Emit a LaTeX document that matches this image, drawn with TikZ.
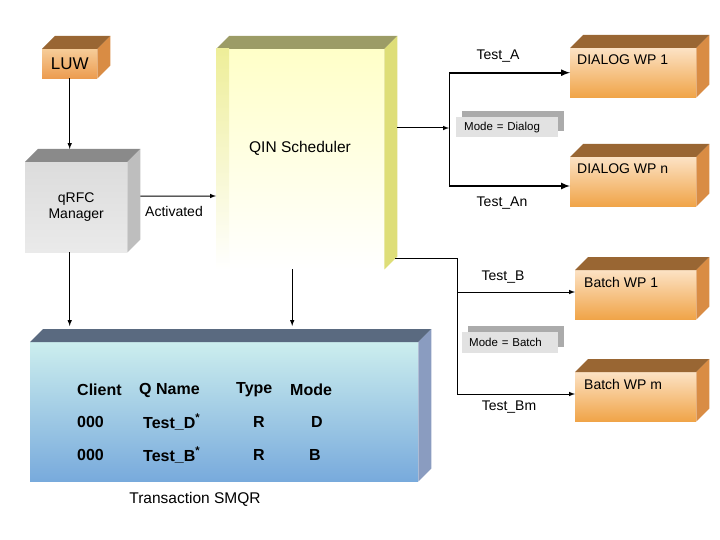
\documentclass[tikz,border=0pt]{standalone}
\usepackage{fontspec}
\setmainfont{Liberation Sans}
\usetikzlibrary{shapes,arrows,shadows}
\definecolor{wpTop}{HTML}{996633}
\definecolor{wpLight}{HTML}{FCE2C4}
\definecolor{wpDark}{HTML}{F0A448}
\definecolor{wpSide}{HTML}{D98C44}
\definecolor{luwLight}{HTML}{F6CC98}
\definecolor{luwDark}{HTML}{EC9C50}
\definecolor{qrTop}{HTML}{8A8A8A}
\definecolor{qrFront}{HTML}{DCDCDC}
\definecolor{qrSide}{HTML}{BEBEBE}
\definecolor{qinTop}{HTML}{9C9C66}
\definecolor{qinFront}{HTML}{FFFFC8}
\definecolor{qinStripe}{HTML}{EEEE99}
\definecolor{qinSide}{HTML}{DEDE78}
\definecolor{tbTop}{HTML}{5A6A80}
\definecolor{tbSide}{HTML}{8A9CC0}
\definecolor{tbLight}{HTML}{CCEEEE}
\definecolor{tbMid}{HTML}{BCBCEC}
\definecolor{tbDark}{HTML}{78AADC}
\definecolor{modeFront}{HTML}{E2E2E2}
\definecolor{modeShadow}{HTML}{ABABAB}
\tikzstyle{face} = [rectangle, inner sep=0pt, anchor=north west]
\tikzstyle{wp} = [face, minimum width=126pt, minimum height=49pt, top color=wpLight, bottom color=wpDark]
\tikzstyle{lbl} = [font=\fontsize{14}{16}\selectfont]
\tikzstyle{wptext} = [lbl, anchor=west, inner sep=0pt]
\tikzstyle{mode} = [rectangle, fill=modeFront, anchor=north west, inner ysep=0pt, align=left, font=\fontsize{11.5}{13}\selectfont, drop shadow={shadow xshift=6pt, shadow yshift=6pt, fill=modeShadow, opacity=1}]
\tikzstyle{tbl} = [font=\fontsize{16}{18}\selectfont\bfseries, inner sep=0pt]
\tikzstyle{arr} = [-latex, line width=1pt]
% top and right side of a block
\newcommand{\boxsides}[3]{%
  \fill[#2] (#1.north west) -- ++(13,-13) -- ([shift={(13,-13)}]#1.north east) -- (#1.north east) -- cycle;
  \fill[#3] (#1.north east) -- ++(13,-13) -- ([shift={(13,-13)}]#1.south east) -- (#1.south east) -- cycle;}
\begin{document}
\begin{tikzpicture}[x=1pt, y=-1pt]
   \useasboundingbox (0,0) rectangle (720,540);
   % blocks
   \node[face, minimum width=55pt, minimum height=29pt, top color=luwLight, bottom color=luwDark] (luw) at (42,49) {};
   \boxsides{luw}{wpTop}{wpSide}
   \node[font=\fontsize{17}{19}\selectfont] (luwtext) at (luw) {LUW};
   \node[face, minimum width=102pt, minimum height=90pt, top color=qrFront, bottom color=qrFront!60!white] (qrfc) at (25,162) {};
   \boxsides{qrfc}{qrTop}{qrSide}
   \node[lbl, align=center] (qrfctext) at (qrfc) {qRFC\\Manager};
   \node[face, minimum width=168pt, minimum height=220pt, top color=qinFront, bottom color=white] (qin) at (216,49) {};
   \boxsides{qin}{qinTop}{qinSide}
   \fill[top color=qinStripe, bottom color=white] (qin.north west) rectangle ([xshift=13pt]qin.south west);
   \node[font=\fontsize{15.5}{18}\selectfont] (qintext) at (300,148) {QIN Scheduler};
   \node[wp] (dwp1) at (570,48) {};
   \node[wp] (dwpn) at (570,157) {};
   \node[wp, minimum width=121pt] (bwp1) at (575,270) {};
   \node[wp, minimum width=121pt] (bwpm) at (575,372) {};
   \boxsides{dwp1}{wpTop}{wpSide}
   \boxsides{dwpn}{wpTop}{wpSide}
   \boxsides{bwp1}{wpTop}{wpSide}
   \boxsides{bwpm}{wpTop}{wpSide}
   \node[wptext] (dwp1text) at ([shift={(7,12)}]dwp1.north west) {DIALOG WP 1};
   \node[wptext] (dwpntext) at ([shift={(7,12)}]dwpn.north west) {DIALOG WP n};
   \node[wptext] (bwp1text) at ([shift={(9,12)}]bwp1.north west) {Batch WP 1};
   \node[wptext] (bwpmtext) at ([shift={(9,12)}]bwpm.north west) {Batch WP m};
   \node[face, minimum width=388pt, minimum height=139pt, top color=tbLight, middle color=tbMid, bottom color=tbDark] (smqr) at (30,342) {};
   \boxsides{smqr}{tbTop}{tbSide}
   % table
   \node[tbl, anchor=west] (hclient) at (77,390) {Client};
   \node[tbl, anchor=west] (hqname) at (139,390) {Q Name};
   \node[tbl, anchor=west] (htype) at (236,390) {Type};
   \node[tbl, anchor=west] (hmode) at (290,390) {Mode};
   \node[tbl, anchor=west] (client1) at (77,422) {000};
   \node[tbl, anchor=west] (qname1) at (143,422) {Test\_D\textsuperscript{*}};
   \node[tbl] (type1) at (259,422) {R};
   \node[tbl] (mode1) at (317,422) {D};
   \node[tbl, anchor=west] (client2) at (77,455) {000};
   \node[tbl, anchor=west] (qname2) at (143,455) {Test\_B\textsuperscript{*}};
   \node[tbl] (type2) at (259,455) {R};
   \node[tbl] (mode2) at (315,455) {B};
   \node[font=\fontsize{15.5}{18}\selectfont] (smqrtext) at (195,499) {Transaction SMQR};
   % mode notes
   \node[mode, text width=86pt, inner xsep=8pt, minimum height=20pt] (mdialog) at (456,117) {Mode = Dialog};
   \node[mode, text width=82pt, inner xsep=7pt, minimum height=21pt] (mbatch) at (462,332) {Mode = Batch};
   % labels
   \node[lbl] (activated) at (174,211) {Activated};
   \node[lbl] (testa) at (498,56) {Test\_A};
   \node[lbl] (testan) at (502,203) {Test\_An};
   \node[lbl] (testb) at (503,277) {Test\_B};
   \node[lbl] (testbm) at (509,407) {Test\_Bm};
   % connectors
   \coordinate (qrfctop) at ([yshift=13pt]qrfc.north);
   \coordinate (smqrtop) at ([yshift=16pt]smqr.north);
   \coordinate (qd) at (397,128);
   \coordinate (dsplit) at (449,128);
   \coordinate (qb) at (395,258);
   \coordinate (bsplit) at (457,258);
   \draw[arr] (luw.south) -- (luw.south |- qrfctop);
   \draw[arr] ([shift={(13,-11)}]qrfc.east) -- (qin.west |- 0,196);
   \draw[arr] (luw.south |- qrfc.south) -- (luw.south |- smqrtop);
   \draw[arr] ([xshift=-8pt]qin.south) -- ([xshift=-8pt]qin.south |- smqrtop);
   \draw[arr] (qd) -- (dsplit);
   \draw[line width=1pt] (dsplit |- dwp1.west) -- (dsplit |- 0,186);
   \draw[arr, line width=2pt] (dsplit |- dwp1.west) -- (dwp1.west);
   \draw[arr, line width=2pt] (dsplit |- 0,186) -- (dwpn.west |- 0,186);
   \draw[line width=1pt] (qb) -- (bsplit) -- (bsplit |- 0,394);
   \draw[arr] (bsplit |- 0,292) -- (bwp1.west |- 0,292);
   \draw[arr] (bsplit |- 0,394) -- (bwpm.west |- 0,394);
\end{tikzpicture}
\end{document}
